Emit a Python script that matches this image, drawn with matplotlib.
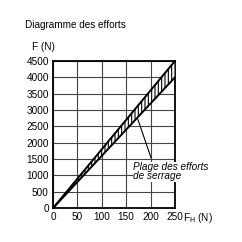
import matplotlib
matplotlib.use("Agg")
import matplotlib.pyplot as plt
import numpy as np

fh = [0, 250]
f_upper = [0, 4500]
f_lower = [0, 4000]
xticks = [0, 50, 100, 150, 200, 250]
yticks = [0, 500, 1000, 1500, 2000, 2500, 3000, 3500, 4000, 4500]

plt.rcParams['font.family'] = ['Liberation Sans', 'DejaVu Sans']
plt.rcParams['hatch.linewidth'] = 0.8

fs = 7.2
fig = plt.figure(figsize=(2.42, 2.42), dpi=100)
ax = fig.add_axes([0.219, 0.14, 0.504, 0.608])
ax.set_xlim(0, 250)
ax.set_ylim(0, 4500)
ax.set_xticks(xticks)
ax.set_yticks(yticks)
ax.tick_params(length=0, labelsize=fs, pad=3)
ax.grid(True, color='#444444', linewidth=0.8)
ax.set_axisbelow(True)
for s in ax.spines.values():
    s.set_linewidth(1.3)

ax.fill_between(fh, f_lower, f_upper, facecolor='white', edgecolor='black', hatch='|||||', linewidth=0, zorder=3)
ax.plot(fh, f_upper, color='black', linewidth=1.4, zorder=4)
ax.plot(fh, f_lower, color='black', linewidth=1.4, zorder=4)

ax.annotate('', xy=(172, 2800), xytext=(203, 1450),
            arrowprops=dict(arrowstyle='-', color='black', linewidth=0.8), zorder=5)
ax.text(164, 1400, 'Plage des efforts\nde serrage', fontsize=fs, style='italic',
        ha='left', va='top', linespacing=0.85, zorder=6,
        bbox=dict(facecolor='white', edgecolor='none', pad=0.3))

fig.text(0.105, 0.895, 'Diagramme des efforts', fontsize=fs, ha='left', va='center')
fig.text(0.132, 0.805, 'F (N)', fontsize=fs, ha='left', va='center')
fig.text(0.758, 0.10, r'F$_{\mathrm{H}}$ (N)', fontsize=fs, ha='left', va='center')

fig.savefig('out.png', dpi=100)
